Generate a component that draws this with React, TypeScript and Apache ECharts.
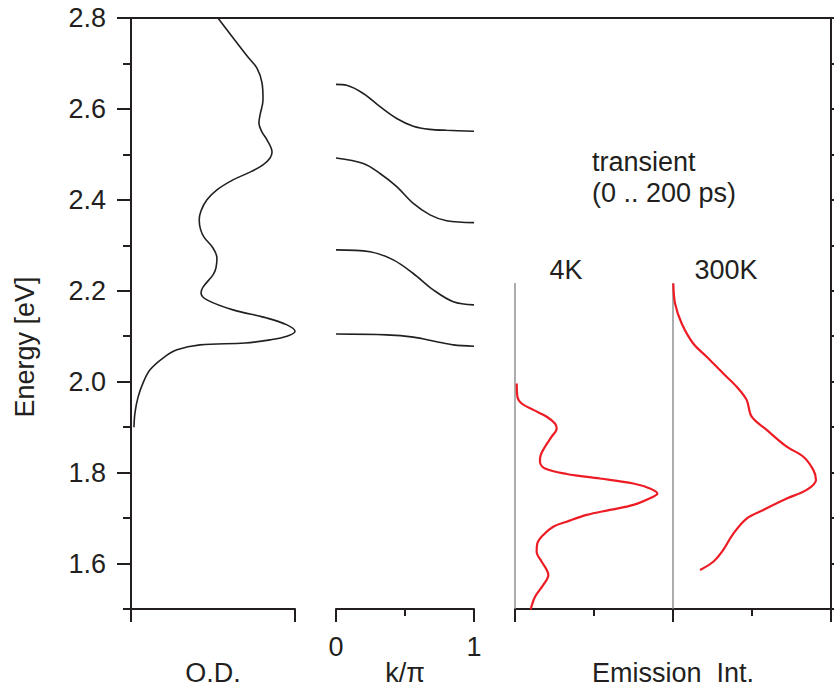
import React, { useEffect, useRef } from "react";
import * as echarts from "echarts";

// ---- Data ----
// Optical density (O.D.) spectrum: energy [eV] and normalized O.D.
const odEnergy = [2.800, 2.714, 2.690, 2.657, 2.620, 2.587, 2.569, 2.549, 2.532, 2.505, 2.492, 2.477, 2.461, 2.444, 2.422, 2.400, 2.375, 2.355, 2.335, 2.318, 2.294, 2.272, 2.250, 2.235, 2.208, 2.195, 2.180, 2.158, 2.140, 2.125, 2.111, 2.100, 2.092, 2.085, 2.081, 2.070, 2.052, 2.026, 1.997, 1.966, 1.931, 1.900];
const odValue = [0.530, 0.713, 0.768, 0.799, 0.805, 0.787, 0.780, 0.799, 0.829, 0.860, 0.848, 0.805, 0.726, 0.622, 0.524, 0.463, 0.426, 0.416, 0.424, 0.445, 0.500, 0.524, 0.518, 0.500, 0.439, 0.427, 0.463, 0.622, 0.829, 0.951, 1.000, 0.951, 0.848, 0.695, 0.421, 0.280, 0.195, 0.116, 0.073, 0.043, 0.024, 0.018];

// Dispersion branches E(k), k in units of pi
const band1K = [0, 0.077, 0.198, 0.319, 0.44, 0.56, 0.681, 0.802, 1.0];
const band1E = [2.654, 2.652, 2.634, 2.605, 2.579, 2.562, 2.555, 2.553, 2.551];
const band2K = [0, 0.198, 0.319, 0.44, 0.56, 0.681, 0.802, 1.0];
const band2E = [2.492, 2.480, 2.458, 2.429, 2.392, 2.367, 2.354, 2.350];
const band3K = [0, 0.246, 0.415, 0.56, 0.705, 0.85, 1.0];
const band3E = [2.290, 2.286, 2.268, 2.238, 2.202, 2.176, 2.169];
const band4K = [0, 0.367, 0.56, 0.729, 0.85, 1.0];
const band4E = [2.105, 2.103, 2.098, 2.088, 2.081, 2.078];

// Transient emission 4K
const em4Energy = [1.996, 1.967, 1.952, 1.938, 1.923, 1.908, 1.897, 1.879, 1.857, 1.839, 1.824, 1.809, 1.797, 1.787, 1.776, 1.765, 1.754, 1.747, 1.729, 1.718, 1.707, 1.692, 1.681, 1.663, 1.644, 1.626, 1.604, 1.586, 1.575, 1.553, 1.527, 1.499];
const em4Int = [0.011, 0.015, 0.042, 0.116, 0.201, 0.253, 0.264, 0.232, 0.190, 0.163, 0.158, 0.190, 0.327, 0.538, 0.749, 0.854, 0.901, 0.875, 0.749, 0.601, 0.454, 0.327, 0.242, 0.179, 0.141, 0.137, 0.169, 0.201, 0.211, 0.179, 0.127, 0.099];

// Transient emission 300K
const em300Energy = [2.216, 2.172, 2.128, 2.084, 2.055, 2.018, 1.989, 1.960, 1.923, 1.894, 1.857, 1.835, 1.806, 1.784, 1.762, 1.743, 1.718, 1.699, 1.666, 1.630, 1.604, 1.586];
const em300Int = [0.002, 0.013, 0.055, 0.128, 0.213, 0.318, 0.403, 0.466, 0.498, 0.593, 0.720, 0.825, 0.888, 0.905, 0.846, 0.720, 0.572, 0.466, 0.382, 0.318, 0.255, 0.171];

// Emission panel baselines (panel offsets) and their top energy
const emPanelOffsets = [0, 1];
const emBaselineTop = 2.217;

// Axis ticks
const yMajorTicks = [1.6, 1.8, 2.0, 2.2, 2.4, 2.6, 2.8];
const yMinorTicks = [1.5, 1.7, 1.9, 2.1, 2.3, 2.5, 2.7];
const yRightTicks = [1.5, 1.6, 1.7, 1.8, 1.9, 2.0, 2.1, 2.2, 2.3, 2.4, 2.5, 2.6, 2.7, 2.8];

const INK = "#231f20";
const RED = "#ed1c24";
const FONT = "'Liberation Sans', Arial, Helvetica, sans-serif";
const FS = 27;

const zip = (xs: number[], ys: number[], off = 0) => xs.map((x, i) => [x + off, ys[i]]);

export default function App() {
  const ref = useRef<HTMLDivElement>(null);

  useEffect(() => {
    if (!ref.current) return;
    const chart = echarts.init(ref.current, null, { renderer: "svg" });

    const axisLine = { show: true, onZero: false, lineStyle: { color: INK, width: 2 } };
    const yRange = { type: "value", min: 1.5, max: 2.8, splitLine: { show: false } };
    const nameStyle = { fontSize: FS, color: INK, fontFamily: FONT };

    const lineSeries = (data: number[][], xi: number, yi: number, color: string, width: number, z = 3) => ({
      type: "line",
      xAxisIndex: xi,
      yAxisIndex: yi,
      data,
      smooth: 0.35,
      showSymbol: false,
      symbol: "none",
      clip: false,
      z,
      lineStyle: { color, width },
    });

    const bands = [
      zip(band1K, band1E),
      zip(band2K, band2E),
      zip(band3K, band3E),
      zip(band4K, band4E),
    ];

    const option: any = {
      animation: false,
      textStyle: { fontFamily: FONT },
      grid: [
        { left: 131, top: 18, width: 164, height: 591, outerBoundsMode: "none" },
        { left: 336, top: 18, width: 138, height: 591, outerBoundsMode: "none" },
        { left: 515, top: 18, width: 316, height: 591, outerBoundsMode: "none" },
        { left: 131, top: 18, width: 700, height: 591, outerBoundsMode: "none" },
      ],
      xAxis: [
        {
          type: "value", gridIndex: 0, min: 0, max: 1, interval: 1,
          axisLine, splitLine: { show: false },
          axisTick: { show: true, length: 13, lineStyle: { color: INK, width: 2 } },
          axisLabel: { show: false },
          name: "O.D.", nameLocation: "middle", nameGap: 50, nameMoveOverlap: false,
          nameTextStyle: nameStyle,
        },
        {
          type: "value", gridIndex: 1, min: 0, max: 1, interval: 1,
          axisLine, splitLine: { show: false },
          axisTick: { show: true, length: 13, lineStyle: { color: INK, width: 2 } },
          minorTick: { show: true, splitNumber: 2, length: 7, lineStyle: { color: INK, width: 2 } },
          minorSplitLine: { show: false },
          axisLabel: { show: true, fontSize: FS, color: INK, margin: 24, fontFamily: FONT },
          name: "k/\u03c0", nameLocation: "middle", nameGap: 50, nameMoveOverlap: false,
          nameTextStyle: nameStyle,
        },
        {
          type: "value", gridIndex: 2, min: 0, max: 2, interval: 1,
          axisLine, splitLine: { show: false },
          axisTick: { show: true, length: 13, lineStyle: { color: INK, width: 2 } },
          minorTick: { show: true, splitNumber: 2, length: 7, lineStyle: { color: INK, width: 2 } },
          minorSplitLine: { show: false },
          axisLabel: { show: false },
          name: "Emission\u00a0\u00a0Int.", nameLocation: "middle", nameGap: 50, nameMoveOverlap: false,
          nameTextStyle: nameStyle,
        },
        {
          type: "value", gridIndex: 3, min: 0, max: 1, position: "top",
          axisLine, splitLine: { show: false },
          axisTick: { show: false }, axisLabel: { show: false },
        },
      ],
      yAxis: [
        {
          ...yRange, gridIndex: 0, position: "left",
          axisLine,
          axisTick: { show: true, length: 14, customValues: yMajorTicks, lineStyle: { color: INK, width: 2 } },
          axisLabel: {
            show: true, customValues: yMajorTicks, fontSize: FS, color: INK, margin: 25, fontFamily: FONT,
            formatter: (v: number) => v.toFixed(1),
          },
        },
        {
          ...yRange, gridIndex: 0, position: "left",
          axisLine: { show: false, onZero: false },
          axisTick: { show: true, length: 8, customValues: yMinorTicks, lineStyle: { color: INK, width: 2 } },
          axisLabel: { show: false },
        },
        { ...yRange, gridIndex: 1, show: false },
        {
          ...yRange, gridIndex: 2, position: "right",
          axisLine,
          axisTick: { show: true, length: 4, customValues: yRightTicks, lineStyle: { color: INK, width: 2 } },
          axisLabel: { show: false },
        },
        { ...yRange, gridIndex: 3, show: false },
      ],
      series: [
        lineSeries(zip(odValue, odEnergy), 0, 0, INK, 1.6),
        ...bands.map((b) => lineSeries(b, 1, 2, INK, 1.6)),
        ...emPanelOffsets.map((o) => ({
          ...lineSeries([[o, 1.5], [o, emBaselineTop]], 2, 3, "#808080", 1.3, 2),
          smooth: false,
        })),
        lineSeries(zip(em4Int, em4Energy, 0), 2, 3, RED, 2.2),
        lineSeries(zip(em300Int, em300Energy, 1), 2, 3, RED, 2.2),
      ],
      graphic: [
        {
          type: "text", x: 25, y: 347, rotation: Math.PI / 2,
          style: { text: "Energy [eV]", fontSize: FS, fill: INK, fontFamily: FONT, align: "center", verticalAlign: "middle" },
        },
        {
          type: "text", x: 592, y: 162,
          style: { text: "transient", fontSize: FS, fill: INK, fontFamily: FONT, align: "left", verticalAlign: "middle" },
        },
        {
          type: "text", x: 592, y: 193,
          style: { text: "(0 .. 200 ps)", fontSize: FS, fill: INK, fontFamily: FONT, align: "left", verticalAlign: "middle" },
        },
        {
          type: "text", x: 566, y: 270,
          style: { text: "4K", fontSize: FS, fill: INK, fontFamily: FONT, align: "center", verticalAlign: "middle" },
        },
        {
          type: "text", x: 726, y: 270,
          style: { text: "300K", fontSize: FS, fill: INK, fontFamily: FONT, align: "center", verticalAlign: "middle" },
        },
      ],
    };

    chart.setOption(option);
    return () => chart.dispose();
  }, []);

  return (
    <div
      ref={ref}
      style={{ position: "fixed", left: 0, top: 0, width: 834, height: 689, background: "#ffffff" }}
    />
  );
}
